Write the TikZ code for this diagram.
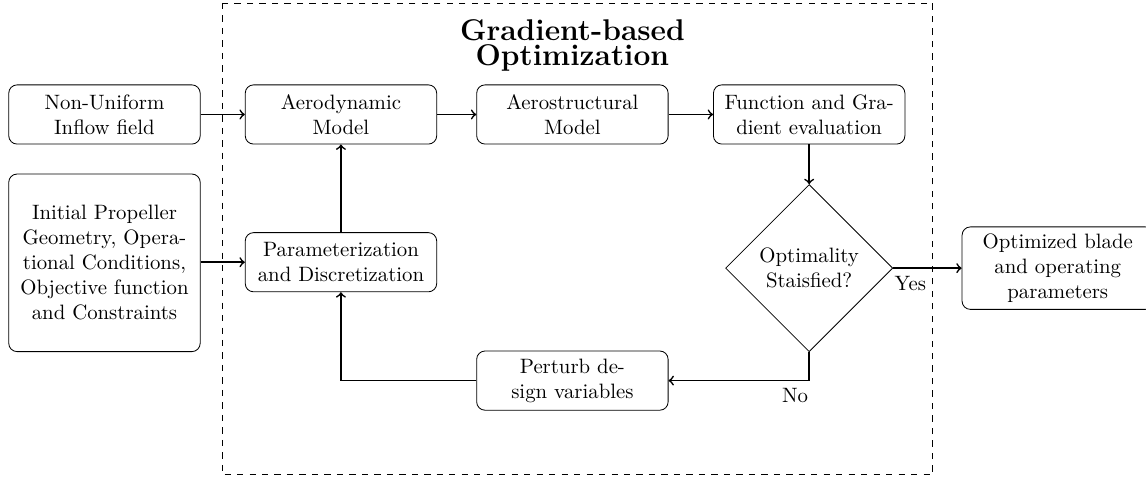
\documentclass[tikz,border=0pt]{standalone}
\usepackage{amsmath}
\usepackage{tikz}
\usetikzlibrary{shapes.geometric}

\tikzset{
    block/.style={draw, rounded corners, text width=3cm, minimum height=1cm, align=center},
    decision/.style={draw, diamond, aspect=1, align=center},
    flow/.style={->, thick}
}

\begin{document}
\begin{tikzpicture}
        \useasboundingbox (0,0) rectangle (19.36,-8.09);
        \draw[dashed] (3.75,-0.05) rectangle (15.76,-8.02);
        \node[align=center, font=\bfseries] (title) at (9.67,-0.76) {\Large Gradient-based\\ \Large Optimization};
        \node[block] (inflow) at (1.765,-1.934) {Non-Uniform Inflow field};
        \node[block, minimum height=3cm] (init) at (1.765,-4.44) {Initial Propeller Geometry, Operational Conditions, Objective function and Constraints};
        \node[block] (aero) at (5.76,-1.934) {Aerodynamic Model};
        \node[block] (aerostr) at (9.67,-1.934) {Aerostructural Model};
        \node[block] (func) at (13.67,-1.934) {Function and Gradient evaluation};
        \node[block] (param) at (5.76,-4.43) {Parameterization and Discretization};
        \node[decision] (check) at (13.67,-4.53) {Optimality\\Staisfied?};
        \node[block] (result) at (17.87,-4.53) {Optimized blade and operating parameters};
        \node[block] (perturb) at (9.67,-6.43) {Perturb design variables};
        \draw[flow] (inflow) -- (aero);
        \draw[flow] (init.east |- param) -- (param);
        \draw[flow] (param) -- (aero);
        \draw[flow] (aero) -- (aerostr);
        \draw[flow] (aerostr) -- (func);
        \draw[flow] (func) -- (check);
        \draw[flow] (check) -- (result) node[near start, below] {Yes};
        \draw[flow] (check.south) |- (perturb.east) node[pos=0.55, below] {No};
        \draw[flow] (perturb.west) -| (param.south);
    \end{tikzpicture}
\end{document}
